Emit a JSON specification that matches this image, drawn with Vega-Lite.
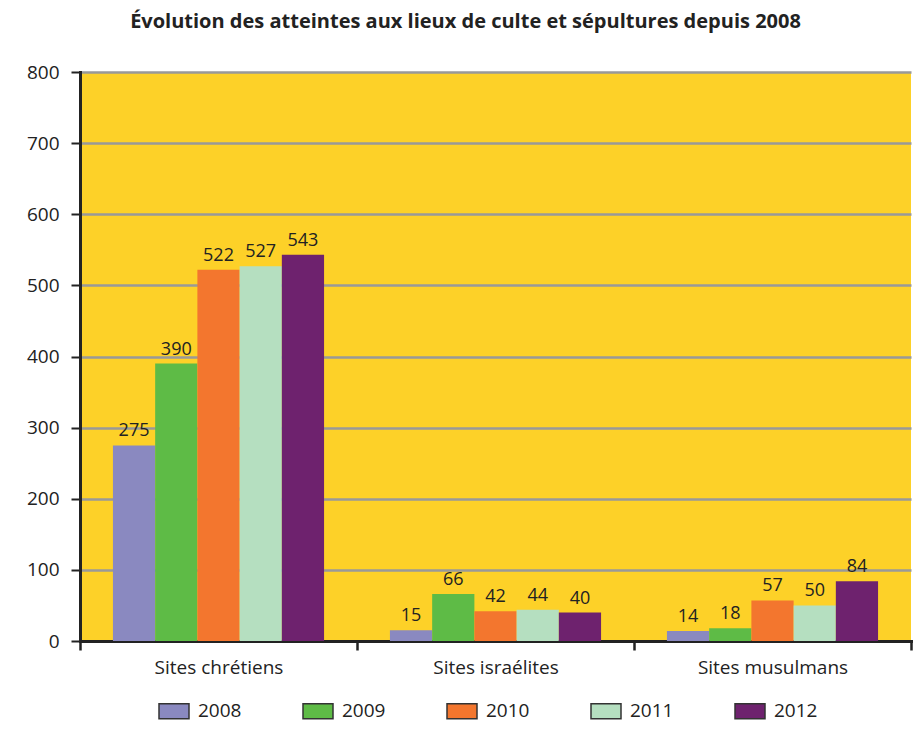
{
  "$schema": "https://vega.github.io/schema/vega-lite/v6.json",
  "width": 831,
  "height": 569,
  "autosize": {"type": "none"},
  "padding": {"left": 80, "top": 72, "right": 2, "bottom": 98},
  "background": "white",
  "title": {
    "text": "Évolution des atteintes aux lieux de culte et sépultures depuis 2008",
    "font": "Open Sans",
    "fontSize": 20,
    "fontWeight": "bold",
    "color": "#222222",
    "anchor": "middle",
    "frame": "group",
    "offset": 31,
    "dx": -30
  },
  "data": {
    "values": [
      {"site": "Sites chrétiens", "annee": "2008", "valeur": 275},
      {"site": "Sites chrétiens", "annee": "2009", "valeur": 390},
      {"site": "Sites chrétiens", "annee": "2010", "valeur": 522},
      {"site": "Sites chrétiens", "annee": "2011", "valeur": 527},
      {"site": "Sites chrétiens", "annee": "2012", "valeur": 543},
      {"site": "Sites israélites", "annee": "2008", "valeur": 15},
      {"site": "Sites israélites", "annee": "2009", "valeur": 66},
      {"site": "Sites israélites", "annee": "2010", "valeur": 42},
      {"site": "Sites israélites", "annee": "2011", "valeur": 44},
      {"site": "Sites israélites", "annee": "2012", "valeur": 40},
      {"site": "Sites musulmans", "annee": "2008", "valeur": 14},
      {"site": "Sites musulmans", "annee": "2009", "valeur": 18},
      {"site": "Sites musulmans", "annee": "2010", "valeur": 57},
      {"site": "Sites musulmans", "annee": "2011", "valeur": 50},
      {"site": "Sites musulmans", "annee": "2012", "valeur": 84}
    ]
  },
  "encoding": {
    "x": {
      "field": "site",
      "type": "nominal",
      "sort": null,
      "scale": {"paddingInner": 0, "paddingOuter": 0},
      "axis": {
        "title": null,
        "labelAngle": 0,
        "labelFont": "Open Sans",
        "labelFontSize": 19,
        "labelColor": "#222222",
        "labelPadding": 8,
        "tickBand": "extent",
        "tickSize": 9,
        "tickWidth": 2.5,
        "tickColor": "#222222",
        "domainColor": "#222222",
        "domainWidth": 3,
        "grid": false
      }
    },
    "xOffset": {
      "field": "annee",
      "type": "nominal",
      "scale": {"paddingInner": 0, "paddingOuter": 0.78}
    },
    "y": {
      "field": "valeur",
      "type": "quantitative",
      "scale": {"domain": [0, 800], "nice": false},
      "axis": {
        "title": null,
        "values": [0, 100, 200, 300, 400, 500, 600, 700, 800],
        "labelFont": "Open Sans",
        "labelFontSize": 19,
        "labelColor": "#222222",
        "labelPadding": 12,
        "tickSize": 9,
        "tickWidth": 2,
        "tickColor": "#222222",
        "domainColor": "#222222",
        "domainWidth": 3,
        "grid": true,
        "gridColor": "#999999",
        "gridWidth": 2.5
      }
    }
  },
  "layer": [
    {
      "mark": {"type": "bar"},
      "encoding": {
        "color": {
          "field": "annee",
          "type": "nominal",
          "scale": {
            "domain": ["2008", "2009", "2010", "2011", "2012"],
            "range": ["#8A89C0", "#5EBB46", "#F3762E", "#B5DFC0", "#6E226E"]
          },
          "legend": {
            "title": null,
            "orient": "none",
            "legendX": 78,
            "legendY": 623,
            "direction": "horizontal",
            "padding": 0,
            "symbolType": "M-1,-0.5H1V0.5H-1Z",
            "symbolSize": 900,
            "symbolStrokeColor": "#333333",
            "symbolStrokeWidth": 1.5,
            "symbolOpacity": 1,
            "labelFont": "Open Sans",
            "labelFontSize": 19,
            "labelColor": "#222222",
            "labelOffset": 8,
            "columnPadding": 58
          }
        }
      }
    },
    {
      "mark": {
        "type": "text",
        "baseline": "bottom",
        "dy": -5,
        "font": "Open Sans",
        "fontSize": 18,
        "color": "#222222"
      },
      "encoding": {"text": {"field": "valeur", "type": "quantitative"}}
    }
  ],
  "config": {
    "view": {"fill": "#FDD128", "stroke": null},
    "axis": {"domainCap": "square"}
  }
}
